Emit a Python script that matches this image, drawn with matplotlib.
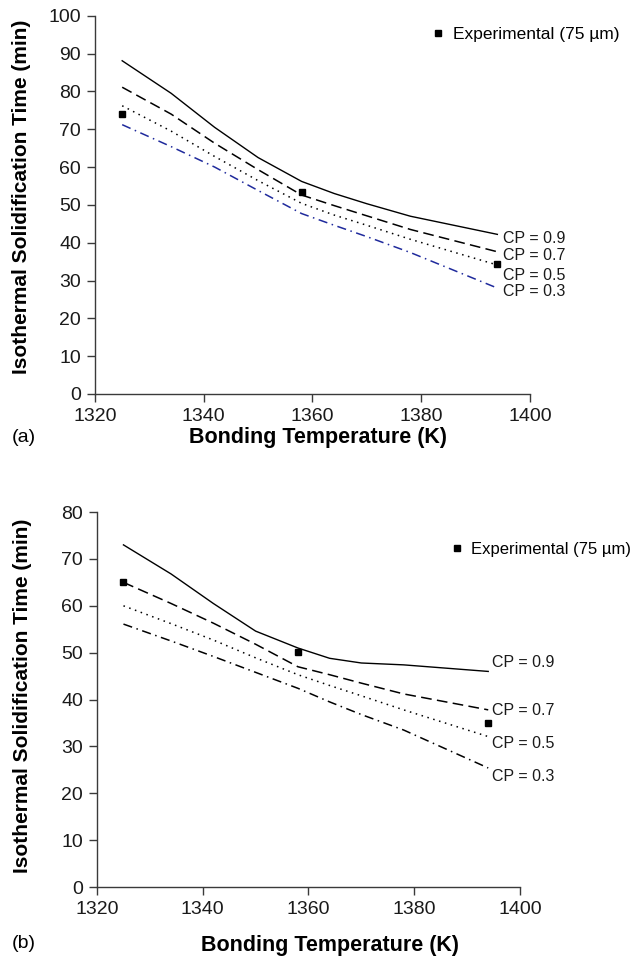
import matplotlib
matplotlib.use("Agg")
import matplotlib.pyplot as plt

plt.rcParams['font.family'] = ['Liberation Sans', 'DejaVu Sans']

# ---- data ----
temps = [1325, 1334, 1342, 1350, 1358, 1364, 1370, 1378, 1394]
cp_labels = ["CP = 0.9", "CP = 0.7", "CP = 0.5", "CP = 0.3"]

a_cp09 = [88.1, 79.5, 70.5, 62.5, 56.2, 53.0, 50.3, 47.0, 42.2]
a_cp07 = [81.1, 74.0, 66.3, 59.3, 52.6, 49.8, 47.1, 43.5, 37.6]
a_cp05 = [76.2, 69.5, 62.8, 56.4, 50.4, 47.3, 44.6, 40.9, 34.1]
a_cp03 = [71.2, 65.4, 60.0, 53.8, 47.7, 44.6, 41.6, 37.4, 28.0]

b_cp09 = [73.0, 66.8, 60.5, 54.6, 51.0, 48.8, 47.8, 47.4, 46.0]
b_cp07 = [65.0, 60.5, 56.3, 51.8, 47.0, 45.3, 43.5, 41.2, 37.8]
b_cp05 = [60.0, 56.2, 52.7, 48.9, 45.3, 43.0, 40.8, 37.8, 32.1]
b_cp03 = [56.1, 52.5, 49.2, 45.8, 42.4, 39.5, 36.8, 33.5, 25.4]

exp_temps = [1325, 1358, 1394]
a_exp = [74.0, 53.4, 34.3]
b_exp = [65.0, 50.1, 35.0]

a_ylim, a_yticks = (0, 100), list(range(0, 101, 10))
b_ylim, b_yticks = (0, 80), list(range(0, 81, 10))
xticks = [1320, 1340, 1360, 1380, 1400]

# ---- figure ----
fig = plt.figure(figsize=(6.35, 9.6), dpi=100)
ax1 = fig.add_axes([0.1496, 0.5896, 0.685, 0.394])
ax2 = fig.add_axes([0.1528, 0.0760, 0.666, 0.3906])

styles = [dict(ls='-', lw=1.0), dict(ls=(0, (7, 3.5)), lw=1.1),
          dict(ls=(0, (1, 3)), lw=1.1), dict(ls=(0, (6, 3, 1, 3)), lw=1.1)]

spine_c = '#3a3a3a'
ylab = "Isothermal Solidification Time (min)"
xlab = "Bonding Temperature (K)"

def setup(ax, ylim, yticks):
    ax.set_xlim(1320, 1400)
    ax.set_ylim(*ylim)
    ax.set_xticks(xticks)
    ax.set_yticks(yticks)
    for s in ['top', 'right']:
        ax.spines[s].set_visible(False)
    for s in ['left', 'bottom']:
        ax.spines[s].set_color(spine_c)
        ax.spines[s].set_linewidth(1.0)
    ax.tick_params(direction='out', length=6, width=1.0, color=spine_c,
                   labelsize=14, labelcolor='#1a1a1a', pad=4)
    ax.set_ylabel(ylab, fontsize=15, fontweight='bold')
    ax.set_xlabel(xlab, fontsize=15.5, fontweight='bold')

# panel a
setup(ax1, a_ylim, a_yticks)
ax1.yaxis.set_label_coords(-0.168, 0.52)
ax1.xaxis.set_label_coords(0.513, -0.114)
ax1.xaxis.label.set_va('center')
ax1.yaxis.label.set_va('center')
a_series = [a_cp09, a_cp07, a_cp05, a_cp03]
a_colors = ['black', 'black', 'black', '#1f2a9c']
for ys, st, c in zip(a_series, styles, a_colors):
    ax1.plot(temps, ys, color=c, **st)
ax1.plot(exp_temps, a_exp, 's', color='black', ms=5, label="Experimental (75 µm)")
a_lab_y = [41.0, 36.5, 31.3, 27.0]
for lab, y in zip(cp_labels, a_lab_y):
    ax1.text(1395.0, y, lab, fontsize=11.5, va='center', ha='left', color='#1a1a1a')
ax1.legend(loc='center left', bbox_to_anchor=(0.775, 0.95), frameon=False,
           borderaxespad=0, borderpad=0, handlelength=0.7, handletextpad=0.5,
           fontsize=12.5)

# panel b
setup(ax2, b_ylim, b_yticks)
ax2.yaxis.set_label_coords(-0.177, 0.51)
ax2.xaxis.set_label_coords(0.551, -0.155)
ax2.xaxis.label.set_va('center')
ax2.yaxis.label.set_va('center')
b_series = [b_cp09, b_cp07, b_cp05, b_cp03]
for ys, st in zip(b_series, styles):
    ax2.plot(temps, ys, color='black', **st)
ax2.plot(exp_temps, b_exp, 's', color='black', ms=5, label="Experimental (75 µm)")
b_lab_y = [47.8, 37.6, 30.6, 23.5]
for lab, y in zip(cp_labels, b_lab_y):
    ax2.text(1394.8, y, lab, fontsize=11.5, va='center', ha='left', color='#1a1a1a')
ax2.legend(loc='center left', bbox_to_anchor=(0.838, 0.901), frameon=False,
           borderaxespad=0, borderpad=0, handlelength=0.7, handletextpad=0.5,
           fontsize=12)

fig.text(12 / 635, 1 - 437 / 960, "(a)", fontsize=14, va='center', ha='left')
fig.text(12 / 635, 1 - 943 / 960, "(b)", fontsize=14, va='center', ha='left')

fig.savefig("out.png", dpi=100)
